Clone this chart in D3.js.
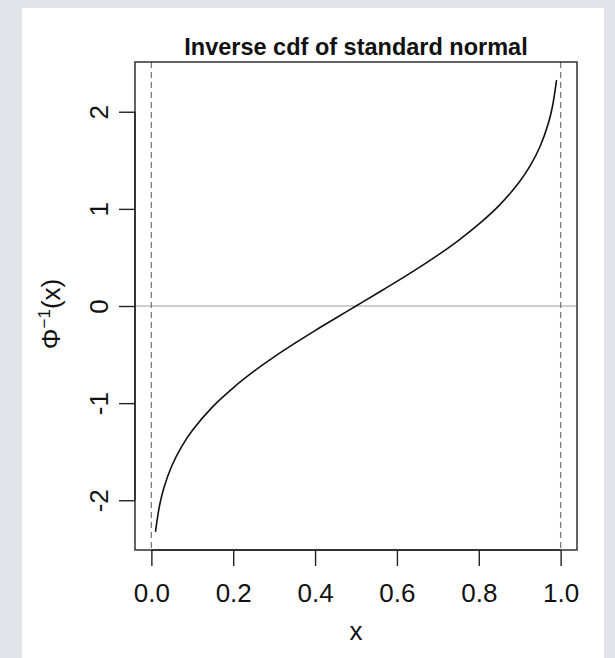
<!DOCTYPE html>
<html>
<head>
<meta charset="utf-8">
<script src="https://cdn.jsdelivr.net/npm/d3@7"></script>
<style>
  body { margin:0; background:#e1e5ea; }
  svg { display:block; }
  text { font-family:"Liberation Sans", Arial, sans-serif; fill:#111; }
</style>
</head>
<body>
<svg width="615" height="658"></svg>
<script>
// values
var xs = [0.01, 0.02, 0.03, 0.05, 0.075, 0.10, 0.15, 0.20, 0.25, 0.30, 0.35, 0.40, 0.45, 0.50,
          0.55, 0.60, 0.65, 0.70, 0.75, 0.80, 0.85, 0.90, 0.925, 0.95, 0.97, 0.98, 0.99];
var ys = [-2.326, -2.054, -1.881, -1.645, -1.440, -1.282, -1.036, -0.842, -0.674, -0.524, -0.385, -0.253, -0.126, 0,
          0.126, 0.253, 0.385, 0.524, 0.674, 0.842, 1.036, 1.282, 1.440, 1.645, 1.881, 2.054, 2.326];
var xTicks = [0, 0.2, 0.4, 0.6, 0.8, 1.0];
var yTicks = [-2, -1, 0, 1, 2];
var vLines = [0, 1];
var hLines = [0];
var title = "Inverse cdf of standard normal";

var svg = d3.select("svg");

// white page
svg.append("rect")
	.attr("x", 22).attr("y", 8)
	.attr("width", 582).attr("height", 650)
	.attr("fill", "#fff");

var box = {left:135, right:577, top:62, bottom:550};

// R style 4% extension
var x = d3.scaleLinear().domain([-0.04, 1.04]).range([box.left, box.right]);
var yMax = d3.max(ys.map(Math.abs)) * 1.08;
var y = d3.scaleLinear().domain([-yMax, yMax]).range([box.bottom, box.top]);

svg.append("clipPath").attr("id", "plotclip")
	.append("rect")
	.attr("x", box.left).attr("y", box.top)
	.attr("width", box.right - box.left).attr("height", box.bottom - box.top);

var plot = svg.append("g").attr("clip-path", "url(#plotclip)");

plot.selectAll("line.h")
	.data(hLines).enter()
	.append("line")
	.attr("class", "h")
	.attr("x1", box.left).attr("x2", box.right)
	.attr("y1", function(d){return y(d)}).attr("y2", function(d){return y(d)})
	.attr("stroke", "#bdbdbd")
	.attr("stroke-width", 1.3);

plot.selectAll("line.v")
	.data(vLines).enter()
	.append("line")
	.attr("class", "v")
	.attr("x1", function(d){return x(d)}).attr("x2", function(d){return x(d)})
	.attr("y1", box.top).attr("y2", box.bottom)
	.attr("stroke", "#7a7a7a")
	.attr("stroke-width", 1.3)
	.attr("stroke-dasharray", "6,4");

var line = d3.line()
	.x(function(d){return x(d[0])})
	.y(function(d){return y(d[1])})
	.curve(d3.curveCatmullRom.alpha(0.5));

plot.append("path")
	.datum(d3.zip(xs, ys))
	.attr("d", line)
	.attr("fill", "none")
	.attr("stroke", "#111")
	.attr("stroke-width", 1.6);

// box
svg.append("rect")
	.attr("x", box.left).attr("y", box.top)
	.attr("width", box.right - box.left).attr("height", box.bottom - box.top)
	.attr("fill", "none")
	.attr("stroke", "#222")
	.attr("stroke-width", 1.4);

// axes
var xAxis = d3.axisBottom(x)
	.tickValues(xTicks)
	.tickSize(16)
	.tickSizeOuter(0)
	.tickFormat(d3.format(".1f"));

var gx = svg.append("g")
	.attr("transform", "translate(0," + box.bottom + ")")
	.call(xAxis);
gx.select(".domain")
	.attr("d", "M" + x(xTicks[0]) + ",0H" + x(xTicks[xTicks.length - 1]));
gx.selectAll("line, path").attr("stroke", "#222").attr("stroke-width", 1.4);
gx.selectAll("text")
	.attr("font-size", 26)
	.attr("y", 52)
	.attr("dy", 0)
	.style("font-family", "Liberation Sans, Arial, sans-serif")
	.attr("fill", "#111");

// R prints a plain hyphen for negatives
var yAxis = d3.axisLeft(y)
	.tickValues(yTicks)
	.tickSize(16)
	.tickSizeOuter(0)
	.tickFormat(function(d){return String(d)});

var gy = svg.append("g")
	.attr("transform", "translate(" + box.left + ",0)")
	.call(yAxis);
gy.select(".domain")
	.attr("d", "M0," + y(yTicks[0]) + "V" + y(yTicks[yTicks.length - 1]));
gy.selectAll("line, path").attr("stroke", "#222").attr("stroke-width", 1.4);
gy.selectAll("text")
	.attr("font-size", 26)
	.attr("x", 0).attr("y", 0).attr("dy", 0)
	.attr("text-anchor", "middle")
	.attr("transform", "translate(-27,0) rotate(-90)")
	.style("font-family", "Liberation Sans, Arial, sans-serif")
	.attr("fill", "#111");

// titles
svg.append("text")
	.attr("x", (box.left + box.right) / 2)
	.attr("y", 55)
	.attr("text-anchor", "middle")
	.attr("font-size", 23.5)
	.attr("font-weight", "bold")
	.text(title);

svg.append("text")
	.attr("x", (box.left + box.right) / 2)
	.attr("y", 640)
	.attr("text-anchor", "middle")
	.attr("font-size", 26)
	.text("x");

var ylab = svg.append("text")
	.attr("transform", "translate(60," + ((box.top + box.bottom) / 2 + 8) + ") rotate(-90)")
	.attr("text-anchor", "middle")
	.attr("font-size", 26);
ylab.append("tspan").text("Φ");
ylab.append("tspan").attr("font-size", 17).attr("dy", -10).text("−1");
ylab.append("tspan").attr("dy", 10).text("(x)");
</script>
</body>
</html>
